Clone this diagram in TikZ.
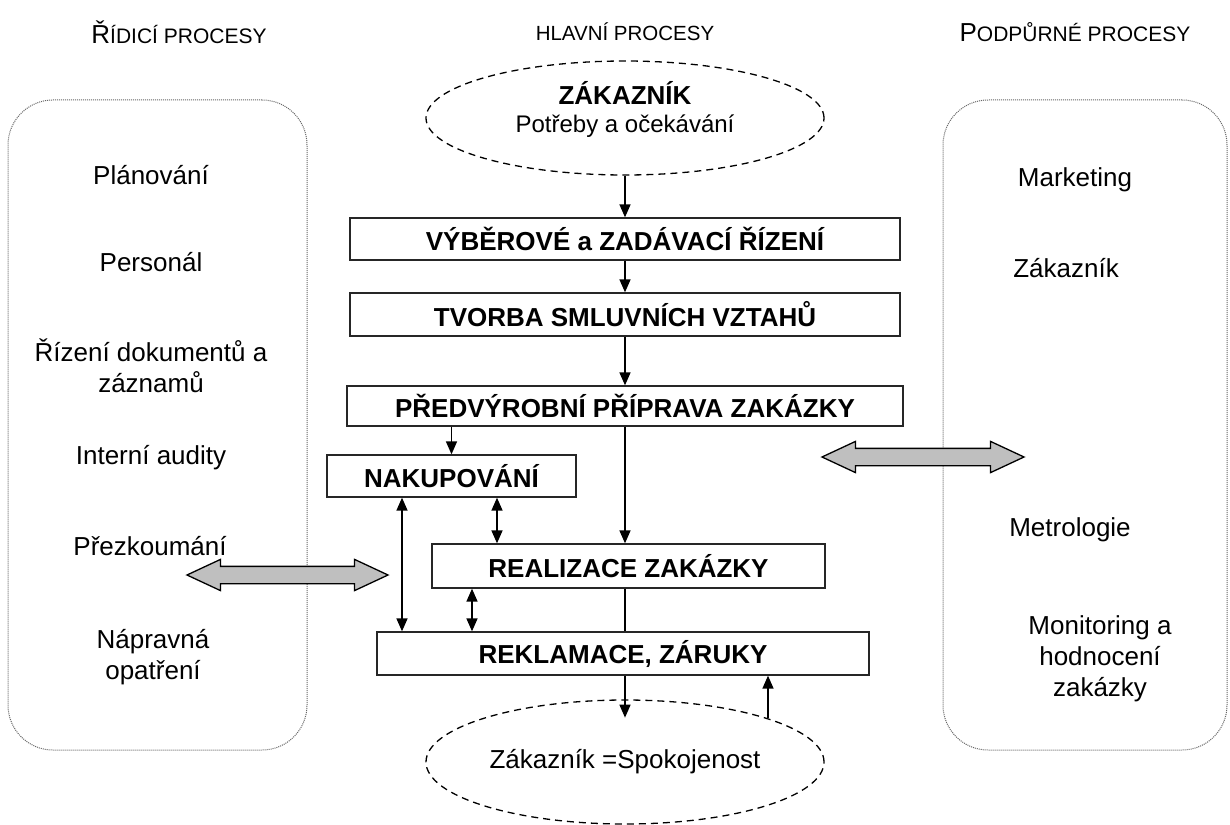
\documentclass[tikz,border=0pt]{standalone}
\usepackage{fontspec}
\setmainfont{Liberation Sans}
\usepackage{tikz}
\usetikzlibrary{shapes.geometric, shapes.arrows, arrows.meta}
\tikzstyle{process} = [rectangle, draw=black!85, line width=1.3pt, fill=white, font=\fontsize{26}{30}\selectfont\bfseries, inner sep=0pt]
\tikzstyle{customer} = [ellipse, draw=black, dash pattern=on 7pt off 5pt, line width=1.3pt, minimum width=398pt, inner sep=0pt, align=center]
\tikzstyle{area} = [rectangle, rounded corners=45pt, draw=black!60, line width=1pt, dash pattern=on 1pt off 1pt]
\tikzstyle{item} = [font=\fontsize{26}{31}\selectfont, align=center]
\tikzstyle{heading} = [font=\fontsize{20.5}{26}\selectfont]
\tikzstyle{arrow} = [line width=1.5pt, -{Triangle[length=13pt,width=11pt]}]
\tikzstyle{bidiarrow} = [line width=1.5pt, {Triangle[length=13pt,width=11pt]}-{Triangle[length=13pt,width=11pt]}]
\tikzstyle{fatarrow} = [double arrow, draw=black, line width=1.3pt, fill=black!25, inner xsep=0pt, inner ysep=8pt, double arrow head extend=7pt, double arrow tip angle=50]
\newcommand{\smallcap}[2]{{\fontsize{26}{26}\selectfont #1}{\fontsize{21}{26}\selectfont #2}}

\begin{document}
\begin{tikzpicture}[x=1pt, y=-1pt]
\useasboundingbox (0,0) rectangle (1230,824);

% Column headings
\node (hridici) [heading] at (179,32) {\smallcap{Ř}{ÍDICÍ PROCESY}};
\node (hhlavni) [heading] at (625,32) {HLAVNÍ PROCESY};
\node (hpodpurne) [heading] at (1075,32) {\smallcap{P}{ODPŮRNÉ PROCESY}};

% Side areas
\node (ridici) [area, minimum width=299pt, minimum height=650pt] at (157.5,425) {};
\node (podpurne) [area, minimum width=284pt, minimum height=650pt] at (1085,425) {};

% Control processes
\node (planovani) [item] at (151,175) {Plánování};
\node (personal) [item] at (151,262) {Personál};
\node (dokumenty) [item] at (151,366) {Řízení dokumentů a\\záznamů};
\node (audity) [item] at (151,458) {Interní audity};
\node (prezkoumani) [item] at (150,546) {Přezkoumání};
\node (napravna) [item] at (153,657) {Nápravná\\opatření};

% Support processes
\node (marketing) [item] at (1075,180) {Marketing};
\node (zakaznik2) [item] at (1066,268) {Zákazník};
\node (metrologie) [item] at (1070,530) {Metrologie};
\node (monitoring) [item] at (1100,659) {Monitoring a\\hodnocení\\zakázky};

% Main processes
\node (zakaznik) [customer, minimum height=114pt, font=\fontsize{24}{28}\selectfont] at (625,118) {{\fontsize{26}{28}\selectfont\bfseries ZÁKAZNÍK}\\Potřeby a očekávání\\[-6pt]};
\node (vyber) [process, minimum width=550pt, minimum height=42pt] at (625,239) {VÝBĚROVÉ a ZADÁVACÍ ŘÍZENÍ};
\node (smlouvy) [process, minimum width=550pt, minimum height=43pt] at (625,314.5) {TVORBA SMLUVNÍCH VZTAHŮ};
\node (priprava) [process, minimum width=556pt, minimum height=40pt] at (625,406) {PŘEDVÝROBNÍ PŘÍPRAVA ZAKÁZKY};
\node (nakup) [process, minimum width=249pt, minimum height=42pt] at (451.5,476) {NAKUPOVÁNÍ};
\node (realizace) [process, minimum width=393pt, minimum height=44pt] at (628.5,566) {REALIZACE ZAKÁZKY};
\node (reklamace) [process, minimum width=492pt, minimum height=43pt] at (623,653.5) {REKLAMACE, ZÁRUKY};
\node (spokojenost) [customer, minimum height=124pt, font=\fontsize{26}{30}\selectfont] at (625,762) {Zákazník =Spokojenost};

% Arrows
\draw [arrow] (zakaznik.south) -- (vyber.north);
\draw [arrow] (vyber.south) -- (smlouvy.north);
\draw [arrow] (smlouvy.south) -- (priprava.north);
\draw [arrow] (priprava.south -| nakup.north) -- (nakup.north);
\draw [arrow] (priprava.south) -- (priprava.south |- realizace.north);
\draw [bidiarrow] ([xshift=45.5pt]nakup.south) -- ([xshift=45.5pt]nakup.south |- realizace.north);
\draw [bidiarrow] ([xshift=-49.5pt]nakup.south) -- ([xshift=-49.5pt]nakup.south |- reklamace.north);
\draw [bidiarrow] ([xshift=-156.5pt]realizace.south) -- ([xshift=-156.5pt]realizace.south |- reklamace.north);
\draw [line width=1.5pt] (priprava.south |- realizace.south) -- (priprava.south |- reklamace.north);
\draw [arrow] (reklamace.south -| priprava.south) -- ++(0,42);
\draw [arrow] (spokojenost.17) -- (spokojenost.17 |- reklamace.south);

% Links to side areas
\node (sipkaL) [fatarrow, minimum height=201pt] at (287.5,575) {};
\node (sipkaR) [fatarrow, minimum height=202pt] at (923,457) {};

\end{tikzpicture}
\end{document}
